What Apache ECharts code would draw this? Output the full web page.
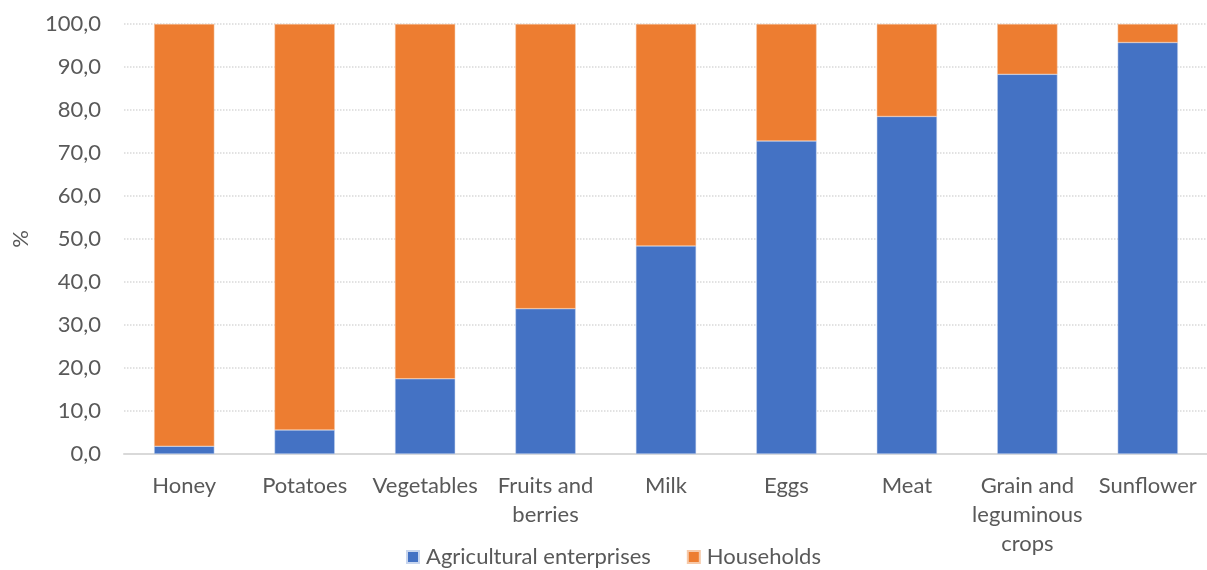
<!DOCTYPE html>
<html><head><meta charset="utf-8">
<script src="https://cdn.jsdelivr.net/npm/echarts@6/dist/echarts.min.js"></script>
<style>html,body{margin:0;padding:0;background:#fff}#c{width:1207px;height:570px}</style>
</head><body><div id="c"></div>
<script>
const categories = ["Honey","Potatoes","Vegetables","Fruits and\nberries","Milk","Eggs","Meat","Grain and\nleguminous\ncrops","Sunflower"];
const agricultural = [1.8, 5.6, 17.5, 33.8, 48.4, 72.8, 78.5, 88.3, 95.7];
const households = [98.2, 94.4, 82.5, 66.2, 51.6, 27.2, 21.5, 11.7, 4.3];
const yTicks = {min: 0, max: 100, interval: 10};
const FONT = 'Lato';
const FS = 22;
const chart = echarts.init(document.getElementById('c'));
chart.setOption({
  animation: false,
  textStyle: {fontFamily: FONT},
  grid: {left: 124, right: -1, top: 24, bottom: 116, containLabel: false, outerBoundsMode: 'none'},
  legend: {
    bottom: -3, left: 401, itemWidth: 12, itemHeight: 12, itemGap: 36,
    icon: 'rect',
    textStyle: {color: '#595959', fontSize: FS, fontFamily: FONT, padding: [0, 0, 0, 2]},
    data: ['Agricultural enterprises', 'Households']
  },
  xAxis: {
    type: 'category', data: categories,
    axisLine: {lineStyle: {color: '#D9D9D9', width: 2}},
    axisTick: {show: false},
    axisLabel: {color: '#595959', fontSize: FS, lineHeight: 29, margin: 17, interval: 0, fontFamily: FONT}
  },
  yAxis: {
    type: 'value', min: yTicks.min, max: yTicks.max, interval: yTicks.interval,
    name: '%', nameLocation: 'middle', nameGap: 92, nameRotate: 90,
    nameTextStyle: {color: '#595959', fontSize: FS, fontFamily: FONT},
    axisLine: {show: false}, axisTick: {show: false},
    axisLabel: {color: '#595959', fontSize: FS, margin: 23, fontFamily: FONT,
      formatter: v => v.toFixed(1).replace('.', ',')},
    splitLine: {lineStyle: {color: '#D9D9D9', type: 'dotted', width: 1.5}}
  },
  series: [
    {name: 'Agricultural enterprises', type: 'bar', stack: 'a', data: agricultural,
     barCategoryGap: '50%', itemStyle: {color: '#4472C4', borderColor: '#c9d6ee', borderWidth: 0.5}},
    {name: 'Households', type: 'bar', stack: 'a', data: households,
     barCategoryGap: '50%', itemStyle: {color: '#ED7D31', borderColor: '#f6c9a9', borderWidth: 0.5}}
  ]
});
</script></body></html>
